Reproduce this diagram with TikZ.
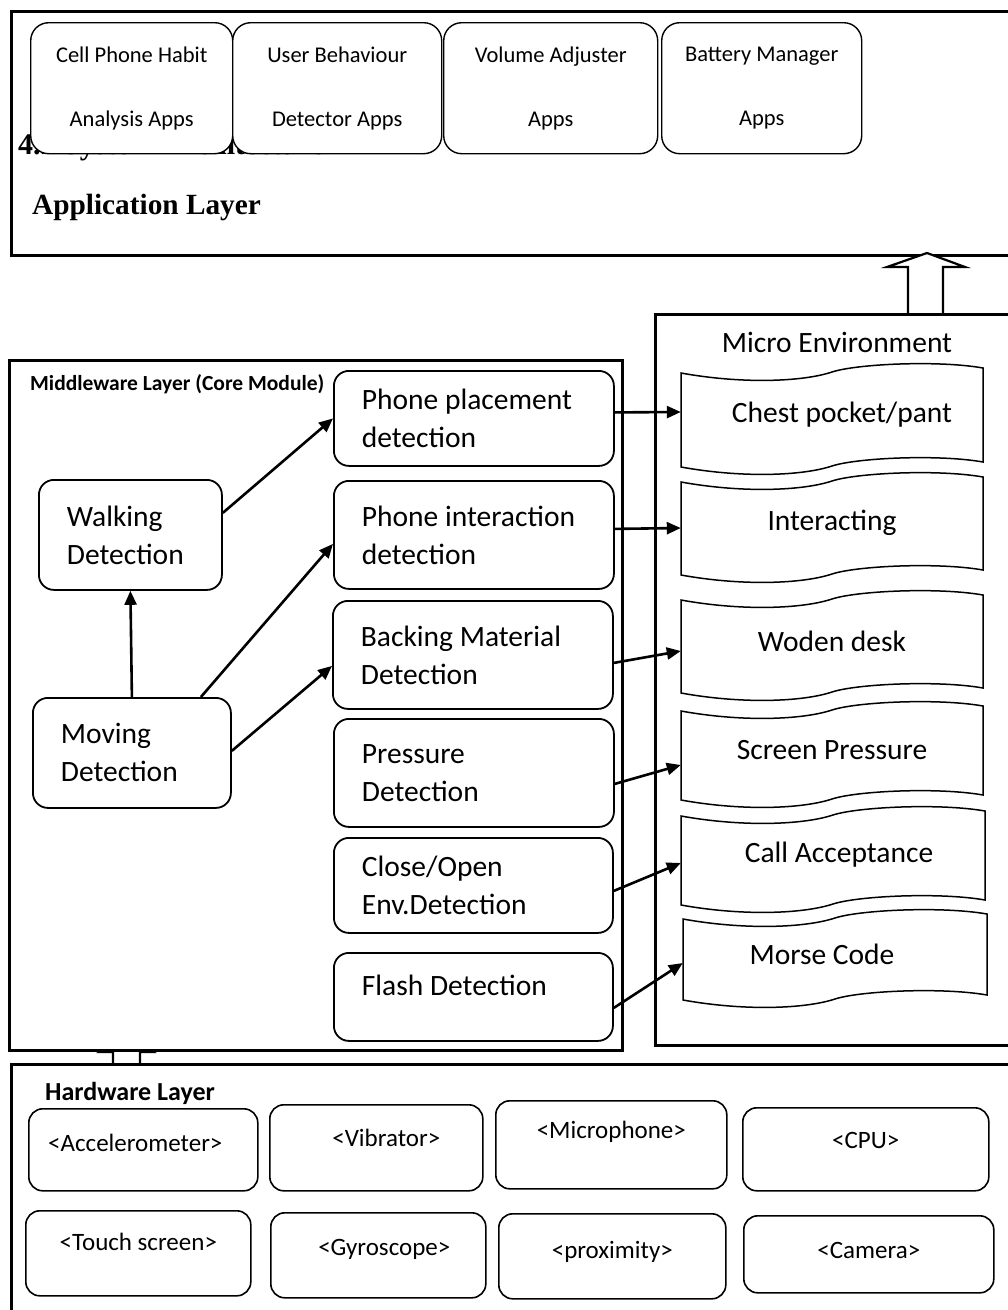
\documentclass[tikz,border=0pt]{standalone}
\usepackage{fontspec}
\setmainfont{Carlito}
\newfontfamily\headserif{Liberation Serif}
\usetikzlibrary{arrows.meta}
\tikzset{
  layerbox/.style={draw, line width=2.6pt, anchor=north west, inner sep=0pt},
  appbox/.style={draw, line width=1.4pt, fill=white, rounded corners=18pt, anchor=north west, inner sep=0pt, align=center, font=\fontsize{22.5}{64}\selectfont},
  modbox/.style={draw, line width=1.8pt, fill=white, rounded corners=15pt, anchor=north west, inner xsep=28pt, inner ysep=0pt, align=flush left, font=\fontsize{29.5}{38}\selectfont},
  hwbox/.style={draw, line width=1.6pt, rounded corners=14pt, anchor=north west, inner sep=0pt, font=\fontsize{25}{30}\selectfont},
  tapeline/.style={draw, line width=1.5pt, fill=white},
  tapetext/.style={inner sep=0pt, font=\fontsize{29.5}{34}\selectfont},
  arr/.style={line width=2.6pt, -{Triangle[length=14pt,width=12pt]}},
  blockarrow/.style={draw, line width=2.2pt, fill=white, line join=miter},
  plainlabel/.style={inner sep=0pt},
}
\newcommand{\tapeshape}[4]{%
  \path[tapeline] (#1,{#2+11})
    .. controls ({#1+0.2*(#3-#1)},{#2+22}) and ({#1+0.4*(#3-#1)},{#2+20}) .. ({#1+0.5*(#3-#1)},{#2+10})
    .. controls ({#1+0.58*(#3-#1)},{#2+2}) and ({#1+0.85*(#3-#1)},{#2-2}) .. (#3,{#2+6})
    -- (#3,{#2+#4+6})
    .. controls ({#1+0.85*(#3-#1)},{#2+#4-2}) and ({#1+0.58*(#3-#1)},{#2+#4+2}) .. ({#1+0.5*(#3-#1)},{#2+#4+10})
    .. controls ({#1+0.4*(#3-#1)},{#2+#4+20}) and ({#1+0.2*(#3-#1)},{#2+#4+22}) .. (#1,{#2+#4+11})
    -- cycle;}
\begin{document}
\begin{tikzpicture}[x=1pt,y=-1pt]
\useasboundingbox (0,0) rectangle (1008,1310);
\fill[white] (0,0) rectangle (1008,1310);

% ---------- Application layer ----------
\node[layerbox, minimum width=1020pt, minimum height=244pt] (applayer) at (10,10) {};
\node[plainlabel, anchor=base west, font=\headserif\bfseries\fontsize{30}{36}\selectfont] (heading) at (18,154) {4.2 System Architecture};
\node[appbox, minimum width=202pt, minimum height=131pt] (app1) at (30,22) {Cell Phone Habit\\Analysis Apps};
\node[appbox, minimum width=209pt, minimum height=131pt] (app2) at (232,22) {User Behaviour\\Detector Apps};
\node[appbox, minimum width=214pt, minimum height=131pt] (app3) at (443,22) {Volume Adjuster\\Apps};
\node[appbox, minimum width=200pt, minimum height=131pt] (app4) at (661,22) {Battery Manager\\Apps};
\node[plainlabel, anchor=base west, font=\headserif\bfseries\fontsize{29.3}{34}\selectfont] (applabel) at (32,214) {Application Layer};

% block arrow micro -> application
\draw[blockarrow] (908,313) -- (908,267) -- (887,267) -- (927,253) -- (965,267) -- (943,267) -- (943,313);

% ---------- Micro environment ----------
\node[layerbox, minimum width=380pt, minimum height=731pt] (micro) at (654,313) {};
\node[plainlabel, anchor=base, font=\fontsize{29.5}{34}\selectfont] (microlabel) at (837,352) {Micro Environment};

\tapeshape{681}{362}{983}{94}
\node[tapetext, minimum width=302pt, minimum height=105pt] (t1) at (832,414.5) {\hspace*{20pt}Chest pocket/pant};
\tapeshape{681}{471}{983}{93}
\node[tapetext, minimum width=302pt, minimum height=104pt] (t2) at (832,523) {Interacting};
\tapeshape{681}{589}{983}{93}
\node[tapetext, minimum width=302pt, minimum height=104pt] (t3) at (832,641) {Woden desk};
\tapeshape{681}{700}{983}{89}
\node[tapetext, minimum width=302pt, minimum height=100pt] (t4) at (832,750) {Screen Pressure};
\tapeshape{681}{805}{985}{89}
\node[tapetext, minimum width=304pt, minimum height=100pt] (t5) at (833,855) {\hspace*{12pt}Call Acceptance};
\tapeshape{683}{908}{987}{81}
\node[tapetext, minimum width=304pt, minimum height=92pt] (t6) at (835,954) {Morse Code\hspace*{26pt}};

% block arrow hardware -> middleware (head hidden behind middleware)
\draw[blockarrow] (113,1063) -- (113,1052) -- (100,1052) -- (126.5,1036) -- (153,1052) -- (140,1052) -- (140,1063);

% ---------- Middleware ----------
\node[layerbox, fill=white, minimum width=613pt, minimum height=690pt] (mw) at (8,359) {};
\node[plainlabel, anchor=base west, font=\bfseries\fontsize{21.5}{24}\selectfont] (mwlabel) at (30,390) {Middleware Layer (Core Module)};

\node[modbox, text width=127pt, minimum height=110pt] (walk) at (38,479) {Walking\\Detection};
\node[modbox, text width=142pt, minimum height=110pt] (mov) at (32,697) {Moving\\Detection};

\node[modbox, text width=224pt, minimum height=95pt] (pp) at (333,370) {Phone placement\\detection};
\node[modbox, text width=224pt, minimum height=108pt] (pi) at (333,480) {Phone interaction\\detection};
\node[modbox, text width=224pt, minimum height=108pt] (bm) at (332,600) {Backing Material\\Detection};
\node[modbox, text width=224pt, minimum height=108pt] (pr) at (333,718) {Pressure\\Detection};
\node[modbox, text width=223pt, minimum height=95pt] (co) at (333,837) {Close/Open\\Env.Detection};
\node[modbox, text width=223pt, minimum height=88pt] (fl) at (333,952) {Flash Detection\\[-14pt]\mbox{}};

\draw[arr] (mov.north) -- (walk.south);
\draw[arr] ([yshift=22pt]walk.east) -- (pp.west);
\draw[arr] ([xshift=69pt]mov.north) -- ([yshift=-9pt]pi.west);
\draw[arr] ([yshift=2pt]mov.east) -- ([yshift=-11pt]bm.west);

\draw[arr] ([yshift=6pt]pp.east) -- ([yshift=2.5pt]t1.west);
\draw[arr] ([yshift=6pt]pi.east) -- ([yshift=-5pt]t2.west);
\draw[arr] ([yshift=-8pt]bm.east) -- ([yshift=-10pt]t3.west);
\draw[arr] ([yshift=-11pt]pr.east) -- ([yshift=-15pt]t4.west);
\draw[arr] ([yshift=-5.5pt]co.east) -- ([yshift=-8pt]t5.west);
\draw[arr] ([yshift=-11pt]fl.east) -- ([yshift=-9pt]t6.west);

% ---------- Hardware ----------
\node[layerbox, minimum width=1020pt, minimum height=300pt] (hw) at (10,1063) {};
\node[plainlabel, anchor=base west, font=\bfseries\fontsize{26}{30}\selectfont] (hwlabel) at (45,1100) {Hardware Layer};

\node[hwbox, minimum width=229pt, text height=42.5pt, text depth=39.5pt] (acc) at (28,1108) {<Accelerometer>\hspace*{16pt}};
\node[hwbox, minimum width=213pt, text height=41.5pt, text depth=44.5pt] (vib) at (269,1104) {\hspace*{20pt}<Vibrator>};
\node[hwbox, minimum width=231pt, text height=37.5pt, text depth=50.5pt] (mic) at (495,1100) {<Microphone>};
\node[hwbox, minimum width=246pt, text height=40.5pt, text depth=42.5pt] (cpu) at (742,1107) {<CPU>};
\node[hwbox, minimum width=225pt, text height=39.5pt, text depth=45.5pt] (touch) at (25,1210) {<Touch screen>};
\node[hwbox, minimum width=215pt, text height=42.5pt, text depth=42.5pt] (gyro) at (270,1212) {\hspace*{12pt}<Gyroscope>};
\node[hwbox, minimum width=227pt, text height=44.5pt, text depth=40.5pt] (prox) at (498,1213) {<proximity>};
\node[hwbox, minimum width=250pt, text height=42.5pt, text depth=34.5pt] (cam) at (743,1215) {<Camera>};
\end{tikzpicture}
\end{document}
